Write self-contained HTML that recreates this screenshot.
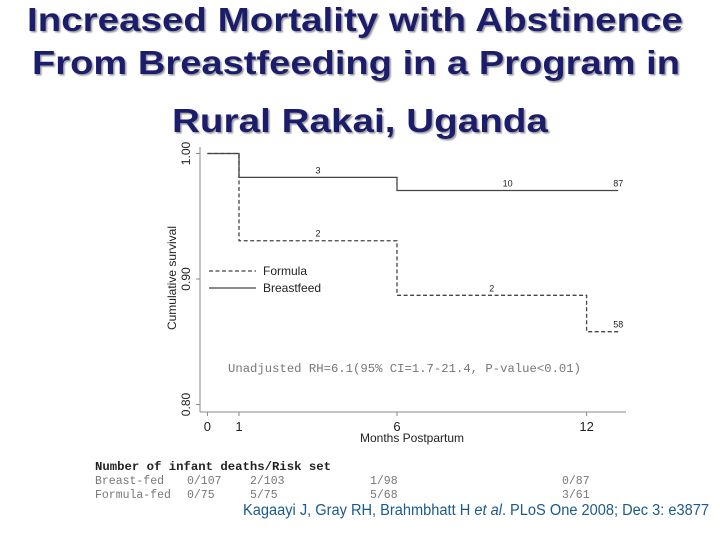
<!DOCTYPE html>
<html><head><meta charset="utf-8"><style>
html,body{margin:0;padding:0;background:#fff;width:720px;height:540px;overflow:hidden}
svg{display:block}
.t{font-family:"Liberation Sans",sans-serif;font-weight:bold;fill:#1c1c6c;font-size:33px}
.a{font-family:"Liberation Sans",sans-serif;fill:#222}
.m{font-family:"Liberation Mono",monospace;fill:#777;font-size:11.5px}
</style></head><body>
<svg id="c" width="720" height="540">
<defs><filter id="sh"><feDropShadow dx="1.5" dy="1.5" stdDeviation="0.8" flood-color="#999"/></filter></defs>
<g filter="url(#sh)">
<text class="t" x="27" y="31" textLength="656" lengthAdjust="spacingAndGlyphs">Increased Mortality with Abstinence</text>
<text class="t" x="32" y="74" textLength="648" lengthAdjust="spacingAndGlyphs">From Breastfeeding in a Program in</text>
<text class="t" x="172" y="132" textLength="376" lengthAdjust="spacingAndGlyphs">Rural Rakai, Uganda</text>
</g>
<g id="plot"></g>
<g>
<text class="m" x="95" y="470" textLength="236" lengthAdjust="spacingAndGlyphs" style="fill:#222;font-weight:bold">Number of infant deaths/Risk set</text>
<text class="m" x="95" y="484">Breast-fed</text><text class="m" x="95" y="498">Formula-fed</text>
<text class="m" x="187" y="484">0/107</text><text class="m" x="250" y="484">2/103</text><text class="m" x="370" y="484">1/98</text><text class="m" x="562" y="484">0/87</text>
<text class="m" x="187" y="498">0/75</text><text class="m" x="250" y="498">5/75</text><text class="m" x="370" y="498">5/68</text><text class="m" x="562" y="498">3/61</text>
</g>
<text x="243" y="515" textLength="466" lengthAdjust="spacingAndGlyphs" style="font-family:'Liberation Sans',sans-serif;font-size:15.5px;fill:#1b5a8c">Kagaayi J, Gray RH, Brahmbhatt H <tspan font-style="italic">et al</tspan>.  PLoS One 2008; Dec 3: e3877</text>
</svg>
<script>
const breastTimes=[0,1,6,13];
const breastSurv=[1.0,0.981,0.9705,0.9705];
const formulaTimes=[0,1,6,12,13];
const formulaSurv=[1.0,0.9305,0.887,0.858,0.858];
const xTicks=[0,1,6,12];
const yTicks=[0.80,0.90,1.00];
const breastLabels=[[3.5,"3"],[9.5,"10"],[13,"87"]];
const formulaLabels=[[3.5,"2"],[9,"2"],[13,"58"]];
const X=t=>207.4+t*31.6;
const Y=v=>279-(v-0.9)*1255;
const NS="http://www.w3.org/2000/svg";
const g=document.getElementById('plot');
function mk(tag,at,txt){const e=document.createElementNS(NS,tag);for(const k in at)e.setAttribute(k,at[k]);if(txt!=null)e.textContent=txt;g.appendChild(e);return e;}
let e;
e=mk('line',{x1:200,y1:147,x2:200,y2:412,stroke:'#888','stroke-width':1});


e=mk('line',{x1:200,y1:412,x2:626,y2:412,stroke:'#888','stroke-width':1});


xTicks.forEach(t=>{
 e=mk('line',{x1:X(t),y1:412,x2:X(t),y2:416,stroke:'#888'});
 
 
 e=mk('text',{x:X(t),y:431,'text-anchor':'middle',class:'a','font-size':13},String(t));
 
 
});
yTicks.forEach(v=>{
 e=mk('line',{x1:196,y1:Y(v),x2:200,y2:Y(v),stroke:'#888'});
 
 
 e=mk('text',{x:190,y:Y(v),'text-anchor':'middle',class:'a','font-size':12,transform:`rotate(-90 190 ${Y(v)})`},v.toFixed(2));
 
 
});
e=mk('text',{x:176,y:278,'text-anchor':'middle',class:'a','font-size':12,transform:'rotate(-90 176 278)'},'Cumulative survival');


e=mk('text',{x:412,y:442,'text-anchor':'middle',class:'a','font-size':12},'Months Postpartum');


function step(ts,vs){let d=`M${X(ts[0])},${Y(vs[0])}`;for(let i=1;i<ts.length;i++){d+=`H${X(ts[i])}V${Y(vs[i])}`;}return d;}
e=mk('path',{d:step(formulaTimes,formulaSurv),fill:'none',stroke:'#444','stroke-width':1.3,'stroke-dasharray':'4,2.5'});


e=mk('path',{d:step(breastTimes,breastSurv),fill:'none',stroke:'#444','stroke-width':1.3});


function valAt(ts,vs,t){let v=vs[0];for(let i=0;i<ts.length;i++)if(ts[i]<=t)v=vs[i];return v;}
breastLabels.forEach(([t,s])=>{e=mk('text',{x:X(t),y:Y(valAt(breastTimes,breastSurv,t))-4,'text-anchor':'middle',class:'a','font-size':9},s);
 
 });
formulaLabels.forEach(([t,s])=>{e=mk('text',{x:X(t),y:Y(valAt(formulaTimes,formulaSurv,t))-4,'text-anchor':'middle',class:'a','font-size':9},s);
 
 });
e=mk('line',{x1:209,y1:271,x2:256,y2:271,stroke:'#444','stroke-width':1.3,'stroke-dasharray':'4,2.5'});


e=mk('text',{x:263,y:275,class:'a','font-size':12},'Formula');


e=mk('line',{x1:209,y1:288,x2:256,y2:288,stroke:'#444','stroke-width':1.3});


e=mk('text',{x:263,y:292,class:'a','font-size':12},'Breastfeed');


e=mk('text',{x:228,y:372,class:'m','font-size':11.5,textLength:353,lengthAdjust:'spacingAndGlyphs'},'Unadjusted RH=6.1(95% CI=1.7-21.4, P-value<0.01)');


</script>
</body></html>
